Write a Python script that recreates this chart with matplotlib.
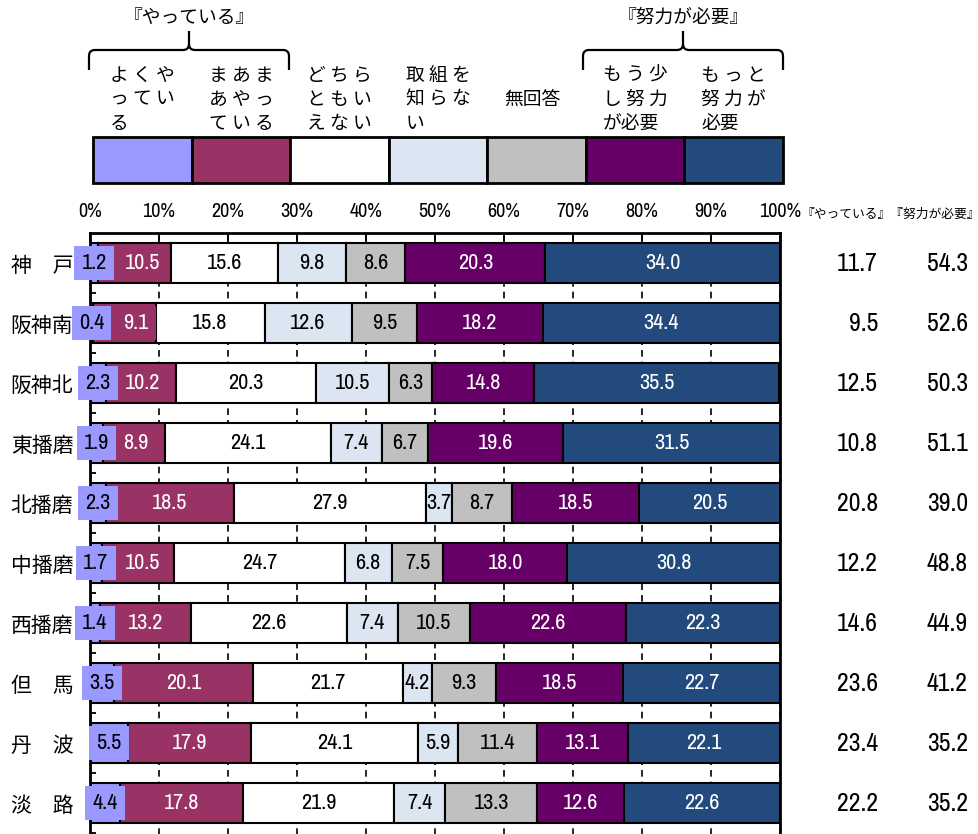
import matplotlib
matplotlib.use("Agg")
import matplotlib.pyplot as plt
import matplotlib.transforms as mtransforms
from matplotlib import font_manager as fm
from matplotlib.path import Path
from matplotlib.patches import PathPatch, Rectangle
import numpy as np

# 地域別の回答割合（%）
regions = ["神　戸", "阪神南", "阪神北", "東播磨", "北播磨", "中播磨", "西播磨", "但　馬", "丹　波", "淡　路"]
yoku = [1.2, 0.4, 2.3, 1.9, 2.3, 1.7, 1.4, 3.5, 5.5, 4.4]
maa = [10.5, 9.1, 10.2, 8.9, 18.5, 10.5, 13.2, 20.1, 17.9, 17.8]
dochira = [15.6, 15.8, 20.3, 24.1, 27.9, 24.7, 22.6, 21.7, 24.1, 21.9]
shiranai = [9.8, 12.6, 10.5, 7.4, 3.7, 6.8, 7.4, 4.2, 5.9, 7.4]
mukaitou = [8.6, 9.5, 6.3, 6.7, 8.7, 7.5, 10.5, 9.3, 11.4, 13.3]
mousukoshi = [20.3, 18.2, 14.8, 19.6, 18.5, 18.0, 22.6, 18.5, 13.1, 12.6]
motto = [34.0, 34.4, 35.5, 31.5, 20.5, 30.8, 22.3, 22.7, 22.1, 22.6]
yatteiru = [11.7, 9.5, 12.5, 10.8, 20.8, 12.2, 14.6, 23.6, 23.4, 22.2]
doryoku = [54.3, 52.6, 50.3, 51.1, 39.0, 48.8, 44.9, 41.2, 35.2, 35.2]

legend_labels = [["よ く や", "っ て い", "る"],
                 ["ま あ ま", "あ や っ", "て い る"],
                 ["ど ち ら", "と も い", "え な い"],
                 ["取 組 を", "知 ら な", "い"],
                 ["", "無回答", ""],
                 ["も う 少", "し 努 力", "が必要"],
                 ["も っ と", "努 力 が", "必要"]]
colors = ["#9999FF", "#993366", "#FFFFFF", "#DCE6F2", "#C0C0C0", "#660066", "#234A7D"]
text_colors = ["black", "white", "black", "black", "black", "white", "white"]

JP = ["Noto Sans CJK JP", "DejaVu Sans"]

# 数字は幅の狭いフォントがあればそれを使う
narrow = [f for f in fm.fontManager.ttflist
          if ("Narrow" in f.name or "Condensed" in f.name or f.stretch in ("condensed", "semi-condensed"))
          and f.style == "normal" and f.weight in (400, "normal", "regular")]
narrow.sort(key=lambda f: (0 if "Narrow" in f.name else 1 if "Roboto" in f.name else 2))
NUMFILE = narrow[0].fname if narrow else None


def numfont(size):
    if NUMFILE:
        return fm.FontProperties(fname=NUMFILE, size=size)
    return fm.FontProperties(family="Noto Sans CJK JP", size=size)


series = [yoku, maa, dochira, shiranai, mukaitou, mousukoshi, motto]

fig = plt.figure(figsize=(9.79, 8.34), dpi=100)
W, H = 979, 834
ax = fig.add_axes([90 / W, 1 - 851 / H, 690 / W, 618 / H])
ov = fig.add_axes([0, 0, 1, 1], zorder=-1)
ov.set_xlim(0, W)
ov.set_ylim(H, 0)
ov.axis("off")

y = np.arange(len(regions))
left = np.zeros(len(regions))
for k, vals in enumerate(series):
    vals = np.array(vals)
    ax.barh(y, vals, left=left, height=0.68, color=colors[k], edgecolor="black",
            linewidth=1.5, zorder=2)
    for i, v in enumerate(vals):
        cx = left[i] + v / 2
        txt = f"{v:.1f}"
        if k == 1:
            cx = max(cx, 4 + 0.9 * len(txt))
        ax.text(cx, i, txt, ha="center", va="center", color=text_colors[k],
                fontproperties=numfont(16), zorder=4,
                bbox=dict(boxstyle="square,pad=0.32", fc=colors[k], ec="none") if k < 2 else None)
    left += vals

ax.set_xlim(0, 100)
ax.set_ylim(9.8, -0.5)
ax.xaxis.tick_top()
ax.set_xticks(np.arange(0, 101, 10))
ax.set_xticklabels([f"{t}%" for t in range(0, 101, 10)], fontproperties=numfont(14.5))
ax.tick_params(axis="x", direction="in", length=7, width=1.3, pad=9)
ax.set_yticks(y)
ax.set_yticklabels(regions, family=JP, fontsize=15)
ax.tick_params(axis="y", which="major", length=0, pad=12)
ax.set_yticks(y + 0.5, minor=True)
ax.tick_params(axis="y", which="minor", direction="in", length=4, width=1.3)
ax.grid(axis="x", linestyle=(0, (4, 3)), color="black", linewidth=1.2, zorder=0)
ax.set_axisbelow(True)
for s in ax.spines.values():
    s.set_linewidth(2)

# 右側の集計値
tr = mtransforms.blended_transform_factory(ov.transData, ax.transData)
for i in range(len(regions)):
    ax.text(878, i, f"{yatteiru[i]:.1f}", transform=tr, ha="right", va="center",
            fontproperties=numfont(18.5), clip_on=False)
    ax.text(968, i, f"{doryoku[i]:.1f}", transform=tr, ha="right", va="center",
            fontproperties=numfont(18.5), clip_on=False)
ov.text(891, 214, "『やっている』『努力が必要』", ha="center", va="center", family=JP, fontsize=9.2)

# 凡例
bx0, bw = 93, (783 - 93) / 7
for k in range(7):
    ov.add_patch(Rectangle((bx0 + k * bw, 137), bw, 46, fc=colors[k], ec="black", lw=2))
    for j, line in enumerate(legend_labels[k]):
        ov.text(bx0 + k * bw + 17, 75 + 24 * j, line, ha="left", va="center",
                family=JP, fontsize=13.5)


def brace(x0, x1, label):
    xm = (x0 + x1) / 2
    r = 6
    verts = [(x0, 70), (x0, 50 + r), (x0, 50), (x0 + r, 50), (xm - r, 50), (xm, 50), (xm, 50 - r),
             (xm, 31), (xm, 50 - r), (xm, 50), (xm + r, 50), (x1 - r, 50), (x1, 50), (x1, 50 + r), (x1, 70)]
    codes = [Path.MOVETO, Path.LINETO, Path.CURVE3, Path.CURVE3, Path.LINETO, Path.CURVE3, Path.CURVE3,
             Path.LINETO, Path.MOVETO, Path.CURVE3, Path.CURVE3, Path.LINETO, Path.CURVE3, Path.CURVE3, Path.LINETO]
    ov.add_patch(PathPatch(Path(verts, codes), fc="none", ec="black", lw=1.6))
    ov.text(xm, 17, label, ha="center", va="center", family=JP, fontsize=13.5)


brace(89, 289, "『やっている』")
brace(583, 783, "『努力が必要』")

fig.savefig("out.png", dpi=100)
